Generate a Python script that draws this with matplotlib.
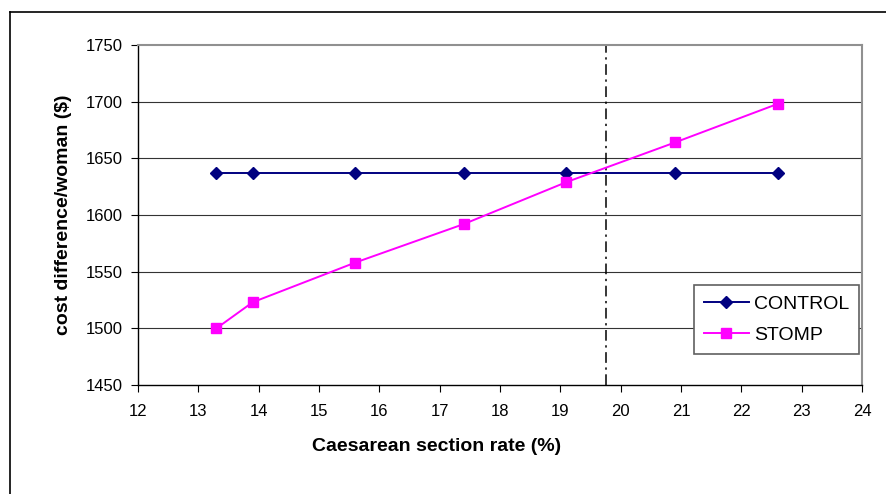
import matplotlib
matplotlib.use('Agg')
import matplotlib.pyplot as plt
from matplotlib.lines import Line2D

plt.rcParams['font.family'] = ['Liberation Sans', 'DejaVu Sans']

# rates (%) and cost difference per woman ($)
rates = [13.3, 13.9, 15.6, 17.4, 19.1, 20.9, 22.6]
control = [1637, 1637, 1637, 1637, 1637, 1637, 1637]
stomp = [1500, 1523, 1558, 1592, 1629, 1664, 1698]
threshold = 19.75

x_ticks = list(range(12, 25))
y_ticks = [1450, 1500, 1550, 1600, 1650, 1700, 1750]

fig = plt.figure(figsize=(8.86, 4.94), dpi=100)
ax = fig.add_axes([138 / 886, 1 - 385 / 494, (862 - 138) / 886, (385 - 45) / 494])

for y in y_ticks[1:-1]:
    ax.axhline(y, color='#333333', lw=0.8, zorder=1)

ax.plot(rates, control, color='#000080', marker='D', markersize=6.5, lw=1.4,
        label='CONTROL', zorder=3)
ax.plot(rates, stomp, color='#FF00FF', marker='s', markersize=7, lw=1.4,
        label='STOMP', zorder=3)
ax.axvline(threshold, color='black', lw=1.1, linestyle=(0, (7, 3, 1.5, 3)), zorder=2)

ax.set_xlim(12, 24)
ax.set_ylim(1450, 1750)
ax.set_xticks(x_ticks)
ax.set_yticks(y_ticks)
ax.tick_params(axis='both', direction='out', length=5, width=0.8, labelsize=12, colors='black')
ax.tick_params(axis='x', pad=9)
ax.tick_params(axis='y', pad=6)

for s in ['left', 'bottom']:
    ax.spines[s].set_color('black')
    ax.spines[s].set_linewidth(1.0)
for s in ['top', 'right']:
    ax.spines[s].set_color('#909090')
    ax.spines[s].set_linewidth(1.5)

ax.set_xlabel('Caesarean section rate (%)', fontsize=14, fontweight='bold')
ax.xaxis.set_label_coords(0.413, -0.155)
ax.set_ylabel('cost difference/woman ($)', fontsize=14, fontweight='bold', labelpad=10)

leg = ax.legend(loc='lower right', bbox_to_anchor=(0.9965, 0.092), fontsize=14,
                frameon=True, fancybox=False, edgecolor='#606060', framealpha=1,
                borderpad=0.5, handlelength=2.3, labelspacing=0.7, handletextpad=0.3,
                borderaxespad=0)
leg.get_frame().set_linewidth(1.2)

# outer chart frame
fig.add_artist(Line2D([10 / 886, 10 / 886], [0, 1 - 12 / 494], transform=fig.transFigure,
                      color='black', lw=1.2))
fig.add_artist(Line2D([10 / 886, 1], [1 - 12 / 494, 1 - 12 / 494], transform=fig.transFigure,
                      color='black', lw=1.2))

fig.savefig('out.png', dpi=100)
